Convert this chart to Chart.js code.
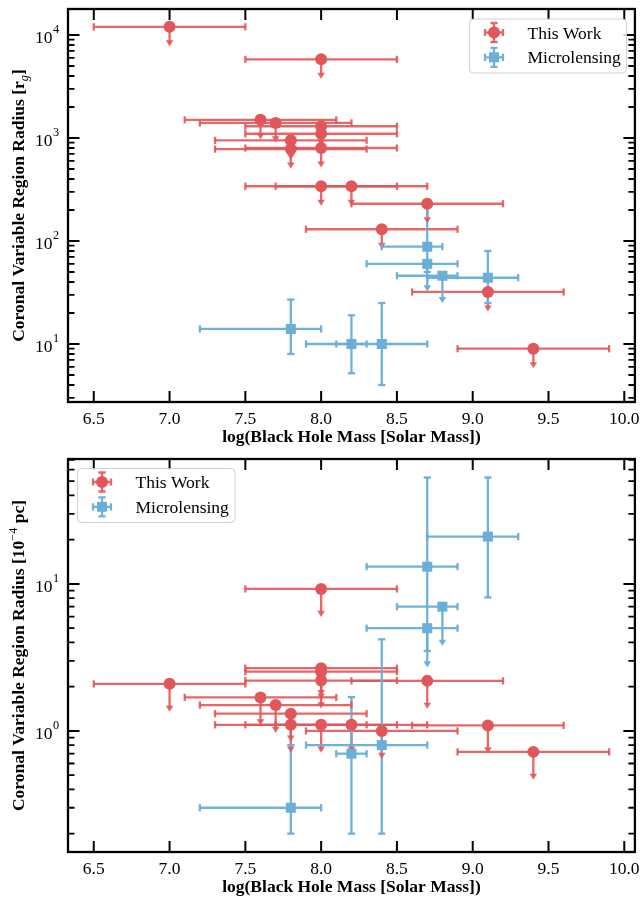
<!DOCTYPE html>
<html><head><meta charset="utf-8">
<script src="https://cdn.jsdelivr.net/npm/chart.js@4.4.0/dist/chart.umd.min.js"></script>
<style>
html,body{margin:0;padding:0;background:#fff;}
canvas{display:block;}
</style></head><body>
<canvas id="c1" width="642" height="450"></canvas>
<canvas id="c2" width="642" height="449"></canvas>
<script>
// ---------------- DATA ----------------
// This Work (red circles, upper limits)
const twMass    = [7.0, 8.0, 7.6, 7.7, 8.0, 8.0, 7.8, 7.8, 8.0, 8.0, 8.2, 8.7, 8.4, 9.1, 9.4];
const twMassErr = [0.5, 0.5, 0.5, 0.5, 0.5, 0.5, 0.5, 0.5, 0.5, 0.5, 0.5, 0.5, 0.5, 0.5, 0.5];
const twRadiusRg = [12000, 5800, 1500, 1400, 1300, 1100, 950, 780, 800, 340, 340, 230, 130, 32, 9];
const twRadiusPc = [2.09, 9.25, 1.69, 1.50, 2.67, 2.53, 1.31, 1.10, 2.20, 1.10, 1.10, 2.19, 1.00, 1.09, 0.72];

// Microlensing (blue squares)
const mlMass       = [7.8, 8.2, 8.4, 8.7, 8.7, 8.8, 9.1];
const mlMassLoRg   = [7.2, 8.1, 7.9, 8.4, 8.3, 8.5, 8.7];
const mlMassHiRg   = [8.0, 8.3, 8.7, 8.8, 8.9, 8.9, 9.3];
const mlMassLoPc   = [7.2, 8.1, 7.9, 8.3, 8.3, 8.5, 8.7];
const mlMassHiPc   = [8.0, 8.3, 8.7, 8.9, 8.9, 8.9, 9.3];
const mlRadiusRg   = [14, 10, 10, 88, 60, 46, 44];
const mlRadiusRgLo = [8, 5.2, 4.0, 50, null, null, 25];
const mlRadiusRgHi = [27, 19, 25, 250, null, null, 80];
const mlRadiusPc   = [0.30, 0.70, 0.80, 13.1, 5.0, 7.0, 21];
const mlRadiusPcLo = [0.20, 0.20, 0.20, 3.5, null, null, 8.1];
const mlRadiusPcHi = [0.80, 1.70, 4.2, 53, null, null, 53];
const mlUpperLimit = [false, false, false, false, true, true, false];

// Axis ticks
const xTicks = [6.5, 7.0, 7.5, 8.0, 8.5, 9.0, 9.5, 10.0];
const xTickLabels = ['6.5', '7.0', '7.5', '8.0', '8.5', '9.0', '9.5', '10.0'];
const yTicksRg = [10, 100, 1000, 10000];
const yTickExpRg = ['1', '2', '3', '4'];
const yTicksPc = [1, 10];
const yTickExpPc = ['0', '1'];
const seriesLabels = ['This Work', 'Microlensing'];

// ---------------- STYLE ----------------
const RED = '#e15759', BLUE = '#6baed6';
const RED_BAR = 'rgba(225,87,89,0.9)', BLUE_BAR = 'rgba(107,174,214,0.97)';
const FONT = '"Liberation Serif","Times New Roman",serif';
const FS = 17.5;
const BAR_W = 2.3;

function drawArrowHead(ctx, px, tipY, color) {
  ctx.fillStyle = color;
  ctx.beginPath();
  ctx.moveTo(px - 3.8, tipY - 6.2);
  ctx.lineTo(px + 3.8, tipY - 6.2);
  ctx.lineTo(px, tipY);
  ctx.closePath();
  ctx.fill();
}

function drawBars(ctx, xs, ys, s) {
  ctx.strokeStyle = s.barColor; ctx.lineWidth = BAR_W; ctx.lineCap = 'butt';
  for (let i = 0; i < s.x.length; i++) {
    const py = ys.getPixelForValue(s.y[i]);
    ctx.beginPath();
    ctx.moveTo(xs.getPixelForValue(s.xlo[i]), py);
    ctx.lineTo(xs.getPixelForValue(s.xhi[i]), py);
    ctx.stroke();
    const px = xs.getPixelForValue(s.x[i]);
    if (s.upper[i]) {
      const tip = ys.getPixelForValue(s.y[i] * s.arrowFactor);
      ctx.beginPath(); ctx.moveTo(px, py); ctx.lineTo(px, tip - 4); ctx.stroke();
    } else if (s.ylo[i] != null) {
      ctx.beginPath();
      ctx.moveTo(px, ys.getPixelForValue(s.ylo[i]));
      ctx.lineTo(px, ys.getPixelForValue(s.yhi[i]));
      ctx.stroke();
    }
  }
}
function drawCaps(ctx, xs, ys, s) {
  ctx.strokeStyle = s.barColor; ctx.lineWidth = BAR_W;
  const c = 3.6;
  for (let i = 0; i < s.x.length; i++) {
    const py = ys.getPixelForValue(s.y[i]);
    const px = xs.getPixelForValue(s.x[i]);
    for (const xv of [s.xlo[i], s.xhi[i]]) {
      const p = xs.getPixelForValue(xv);
      ctx.beginPath(); ctx.moveTo(p, py - c); ctx.lineTo(p, py + c); ctx.stroke();
    }
    if (s.upper[i]) {
      drawArrowHead(ctx, px, ys.getPixelForValue(s.y[i] * s.arrowFactor), s.barColor);
    } else if (s.ylo[i] != null) {
      for (const yv of [s.ylo[i], s.yhi[i]]) {
        const p = ys.getPixelForValue(yv);
        ctx.beginPath(); ctx.moveTo(px - c, p); ctx.lineTo(px + c, p); ctx.stroke();
      }
    }
  }
}

function drawRuns(ctx, runs, cx, cy) {
  let total = 0;
  for (const r of runs) { ctx.font = r.font; r.w = ctx.measureText(r.text).width; total += r.w; }
  ctx.save();
  ctx.translate(cx, cy);
  ctx.rotate(-Math.PI / 2);
  ctx.textAlign = 'left'; ctx.textBaseline = 'alphabetic'; ctx.fillStyle = '#000';
  let x = -total / 2;
  for (const r of runs) { ctx.font = r.font; ctx.fillText(r.text, x, r.dy); x += r.w; }
  ctx.restore();
}

function roundRect(ctx, x, y, w, h, r) {
  ctx.beginPath();
  ctx.moveTo(x + r, y);
  ctx.lineTo(x + w - r, y); ctx.quadraticCurveTo(x + w, y, x + w, y + r);
  ctx.lineTo(x + w, y + h - r); ctx.quadraticCurveTo(x + w, y + h, x + w - r, y + h);
  ctx.lineTo(x + r, y + h); ctx.quadraticCurveTo(x, y + h, x, y + h - r);
  ctx.lineTo(x, y + r); ctx.quadraticCurveTo(x, y, x + r, y);
  ctx.closePath();
}

function drawLegendMarker(ctx, cx, cy, color, barColor, shape) {
  ctx.strokeStyle = barColor; ctx.lineWidth = BAR_W;
  ctx.beginPath();
  ctx.moveTo(cx - 9, cy); ctx.lineTo(cx + 9, cy);
  ctx.moveTo(cx, cy - 9.5); ctx.lineTo(cx, cy + 9.5);
  ctx.moveTo(cx - 9, cy - 3.6); ctx.lineTo(cx - 9, cy + 3.6);
  ctx.moveTo(cx + 9, cy - 3.6); ctx.lineTo(cx + 9, cy + 3.6);
  ctx.moveTo(cx - 3.6, cy - 9.5); ctx.lineTo(cx + 3.6, cy - 9.5);
  ctx.moveTo(cx - 3.6, cy + 9.5); ctx.lineTo(cx + 3.6, cy + 9.5);
  ctx.stroke();
  ctx.fillStyle = color;
  if (shape === 'circle') { ctx.beginPath(); ctx.arc(cx, cy, 6, 0, Math.PI * 2); ctx.fill(); }
  else { ctx.fillRect(cx - 5, cy - 5, 10, 10); }
}

function panelPlugin(p) {
  return {
    id: 'panel',
    beforeDatasetsDraw(chart) {
      const { ctx, chartArea: a, scales: { x, y } } = chart;
      ctx.save();
      ctx.beginPath(); ctx.rect(a.left, a.top, a.right - a.left, a.bottom - a.top); ctx.clip();
      for (const s of p.series) drawBars(ctx, x, y, s);
      for (const s of p.series) drawCaps(ctx, x, y, s);
      ctx.restore();
    },
    afterDraw(chart) {
      const { ctx, chartArea: a, scales: { x, y } } = chart;
      ctx.save();
      ctx.strokeStyle = '#000'; ctx.fillStyle = '#000';
      // x ticks
      ctx.lineWidth = 2;
      xTicks.forEach((v, i) => {
        const px = x.getPixelForValue(v);
        ctx.beginPath();
        ctx.moveTo(px, a.bottom); ctx.lineTo(px, a.bottom - 11);
        ctx.moveTo(px, a.top); ctx.lineTo(px, a.top + 11);
        ctx.stroke();
        ctx.font = FS + 'px ' + FONT; ctx.textAlign = 'center'; ctx.textBaseline = 'alphabetic';
        ctx.fillText(xTickLabels[i], px, a.bottom + 21.5);
      });
      // y minor ticks
      const lo = Math.floor(Math.log10(y.min)), hi = Math.ceil(Math.log10(y.max));
      ctx.lineWidth = 1.8;
      for (let d = lo; d <= hi; d++) {
        for (let k = 2; k <= 9; k++) {
          const v = k * Math.pow(10, d);
          if (v < y.min || v > y.max) continue;
          const py = y.getPixelForValue(v);
          ctx.beginPath();
          ctx.moveTo(a.left, py); ctx.lineTo(a.left + 6.5, py);
          ctx.moveTo(a.right, py); ctx.lineTo(a.right - 6.5, py);
          ctx.stroke();
        }
      }
      // y major ticks + labels
      ctx.lineWidth = 2;
      p.yTicks.forEach((v, i) => {
        const py = y.getPixelForValue(v);
        ctx.beginPath();
        ctx.moveTo(a.left, py); ctx.lineTo(a.left + 11.5, py);
        ctx.moveTo(a.right, py); ctx.lineTo(a.right - 11.5, py);
        ctx.stroke();
        ctx.textAlign = 'left'; ctx.textBaseline = 'alphabetic';
        ctx.font = FS + 'px ' + FONT;
        const w1 = ctx.measureText('10').width;
        ctx.font = (FS * 0.7) + 'px ' + FONT;
        const w2 = ctx.measureText(p.yExp[i]).width;
        const x0 = a.left - 9.5 - w1 - w2;
        ctx.font = FS + 'px ' + FONT;
        ctx.fillText('10', x0, py + 7.8);
        ctx.font = (FS * 0.7) + 'px ' + FONT;
        ctx.fillText(p.yExp[i], x0 + w1 + 0.5, py - 2);
      });
      // frame
      ctx.lineWidth = 2.3;
      ctx.strokeRect(a.left, a.top, a.right - a.left, a.bottom - a.top);
      // x title
      ctx.font = 'bold ' + FS + 'px ' + FONT; ctx.textAlign = 'center';
      ctx.fillText('log(Black Hole Mass [Solar Mass])', (a.left + a.right) / 2, a.bottom + 40);
      // y title
      drawRuns(ctx, p.yTitle, 24, (a.top + a.bottom) / 2);
      // legend
      const L = p.legend;
      ctx.fillStyle = 'rgba(255,255,255,0.8)';
      ctx.strokeStyle = 'rgba(204,204,204,0.9)'; ctx.lineWidth = 1;
      roundRect(ctx, L.x, L.y, L.w, L.h, 4); ctx.fill(); ctx.stroke();
      const entries = [[RED, RED_BAR, 'circle'], [BLUE, BLUE_BAR, 'rect']];
      entries.forEach((e, i) => {
        const cy = L.y + 13.5 + i * 24.8;
        drawLegendMarker(ctx, L.x + 24.5, cy, e[0], e[1], e[2]);
        ctx.fillStyle = '#000'; ctx.font = FS + 'px ' + FONT; ctx.textAlign = 'left';
        ctx.fillText(seriesLabels[i], L.x + 58, cy + 6);
      });
      ctx.restore();
    }
  };
}

function makeChart(id, twY, mlY, mlYlo, mlYhi, mlXlo, mlXhi, yMin, yMax, extra) {
  const series = [
    { x: twMass, xlo: twMass.map((m, i) => m - twMassErr[i]), xhi: twMass.map((m, i) => m + twMassErr[i]),
      y: twY, ylo: twY.map(() => null), yhi: twY.map(() => null), upper: twY.map(() => true),
      barColor: RED_BAR, arrowFactor: 0.645 },
    { x: mlMass, xlo: mlXlo, xhi: mlXhi, y: mlY, ylo: mlYlo, yhi: mlYhi, upper: mlUpperLimit,
      barColor: BLUE_BAR, arrowFactor: 0.54 }
  ];
  return new Chart(document.getElementById(id), {
    type: 'scatter',
    data: {
      datasets: [
        { label: seriesLabels[0], data: twMass.map((m, i) => ({ x: m, y: twY[i] })),
          pointStyle: 'circle', pointRadius: 6, pointHoverRadius: 6,
          backgroundColor: RED, borderWidth: 0, order: 2 },
        { label: seriesLabels[1], data: mlMass.map((m, i) => ({ x: m, y: mlY[i] })),
          pointStyle: 'rect', pointRadius: 7.1, pointHoverRadius: 7.1,
          backgroundColor: BLUE, borderWidth: 0, order: 1 }
      ]
    },
    options: {
      responsive: false, animation: false, events: [],
      layout: { padding: { left: 68, right: 7, top: 9, bottom: extra.padBottom } },
      plugins: { legend: { display: false }, tooltip: { enabled: false } },
      scales: {
        x: { type: 'linear', min: 6.33, max: 10.07, display: false },
        y: { type: 'logarithmic', min: yMin, max: yMax, display: false }
      }
    },
    plugins: [panelPlugin({ series, yTicks: extra.yTicks, yExp: extra.yExp, yTitle: extra.yTitle, legend: extra.legend })]
  });
}

const bold = 'bold ' + FS + 'px ' + FONT;
makeChart('c1', twRadiusRg, mlRadiusRg, mlRadiusRgLo, mlRadiusRgHi, mlMassLoRg, mlMassHiRg, 2.735, 17880, {
  padBottom: 48, yTicks: yTicksRg, yExp: yTickExpRg,
  yTitle: [
    { text: 'Coronal Variable Region Radius [r', font: bold, dy: 0 },
    { text: 'g', font: 'italic ' + (FS * 0.7) + 'px ' + FONT, dy: 3.5 },
    { text: ']', font: bold, dy: 0 }
  ],
  legend: { x: 469.5, y: 19, w: 157, h: 54 }
});
makeChart('c2', twRadiusPc, mlRadiusPc, mlRadiusPcLo, mlRadiusPcHi, mlMassLoPc, mlMassHiPc, 0.150, 70.8, {
  padBottom: 47, yTicks: yTicksPc, yExp: yTickExpPc,
  yTitle: [
    { text: 'Coronal Variable Region Radius [10', font: bold, dy: 0 },
    { text: '\u22124', font: (FS * 0.7) + 'px ' + FONT, dy: -7 },
    { text: ' pc]', font: bold, dy: 0 }
  ],
  legend: { x: 77.5, y: 18.5, w: 157.5, h: 54 }
});
</script>
</body></html>
